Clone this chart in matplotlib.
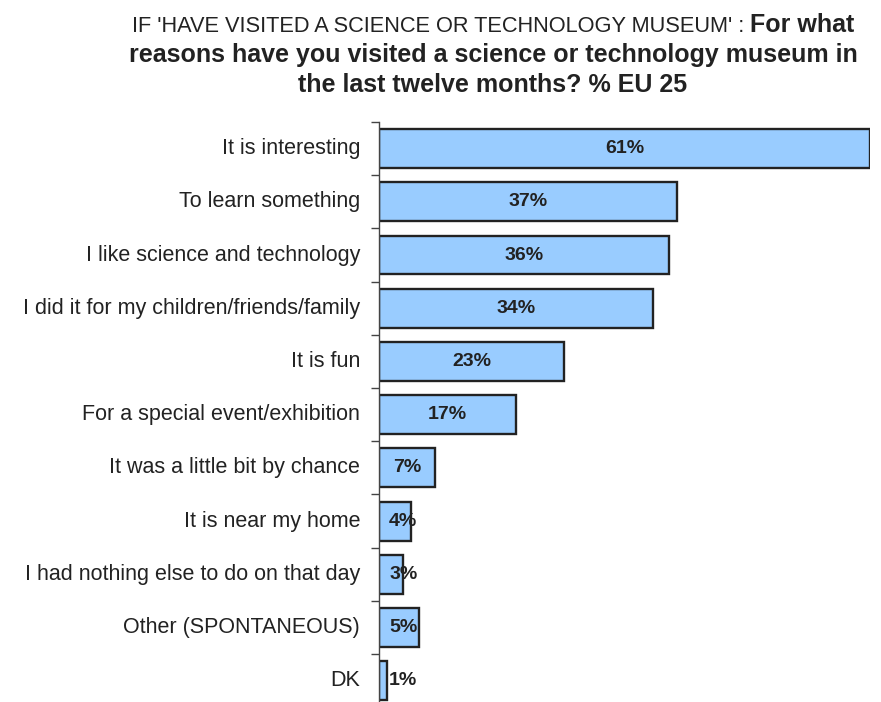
import matplotlib
matplotlib.use("Agg")
import matplotlib.pyplot as plt

categories = [
    "It is interesting",
    "To learn something",
    "I like science and technology",
    "I did it for my children/friends/family",
    "It is fun",
    "For a special event/exhibition",
    "It was a little bit by chance",
    "It is near my home",
    "I had nothing else to do on that day",
    "Other (SPONTANEOUS)",
    "DK",
]
values = [61, 37, 36, 34, 23, 17, 7, 4, 3, 5, 1]

title_regular = "IF 'HAVE VISITED A SCIENCE OR TECHNOLOGY MUSEUM' :"
title_bold_1 = "For what"
title_bold_2 = "reasons have you visited a science or technology museum in"
title_bold_3 = "the last twelve months? % EU 25"

plt.rcParams["font.family"] = ["Liberation Sans", "DejaVu Sans"]

W, H, DPI = 881, 702, 100
fig = plt.figure(figsize=(W / DPI, H / DPI), dpi=DPI)
ax = fig.add_axes([379 / W, 0, 491 / W, 1 - 122 / H])

pos = list(range(len(categories)))
ax.barh(pos, values, height=0.73, color="#99CCFF", edgecolor="#222222",
        linewidth=1.7, zorder=2)
ax.set_xlim(0, 61)
ax.set_ylim(10.40, -0.5)

for p, v in zip(pos, values):
    ax.text(max(v / 2, 3.0), p, f"{v}%", ha="center", va="center",
            fontsize=14, fontweight="bold", color="#222222", zorder=3)

for s in ["top", "right", "bottom"]:
    ax.spines[s].set_visible(False)
ax.spines["left"].set_color("#444444")
ax.spines["left"].set_linewidth(1.0)
ax.set_xticks([])
ax.set_yticks([p - 0.5 for p in pos], minor=False)
ax.set_yticklabels([])
ax.tick_params(axis="y", length=6, width=1.0, color="#444444", direction="out")
for p, c in zip(pos, categories):
    ax.text(-19 / 491, p, c, transform=ax.get_yaxis_transform(), ha="right",
            va="center", fontsize=15.5, color="#222222")

# title: regular lead-in followed by bold question, centred as one line
fig.canvas.draw()
r = fig.canvas.get_renderer()
cx = 493
ta = fig.text(0, 1 - 32 / H, title_regular, fontsize=15.7, color="#222222",
              va="baseline")
tb = fig.text(0, 1 - 32 / H, title_bold_1, fontsize=18, fontweight="bold",
              color="#222222", va="baseline")
wa = ta.get_window_extent(r).width
wb = tb.get_window_extent(r).width
gap = 6
x0 = cx - (wa + gap + wb) / 2
ta.set_x(x0 / W)
tb.set_x((x0 + wa + gap) / W)
fig.text(cx / W, 1 - 62 / H, title_bold_2, fontsize=18, fontweight="bold",
         color="#222222", ha="center", va="baseline")
fig.text(cx / W, 1 - 92 / H, title_bold_3, fontsize=18, fontweight="bold",
         color="#222222", ha="center", va="baseline")

fig.savefig("out.png", dpi=DPI)
